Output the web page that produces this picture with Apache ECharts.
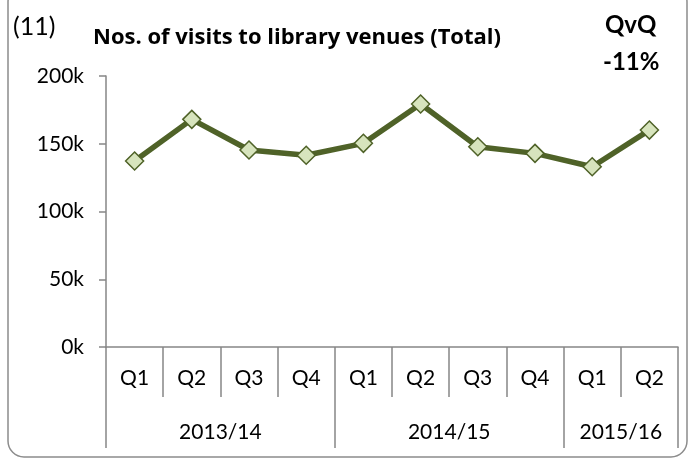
<!DOCTYPE html>
<html>
<head>
<meta charset="utf-8">
<script src="https://cdn.jsdelivr.net/npm/echarts@6/dist/echarts.min.js"></script>
<style>
  html, body { margin: 0; padding: 0; background: #fff; }
  #chart { width: 690px; height: 462px; }
</style>
</head>
<body>
<div id="chart"></div>
<script>
// quarters and the fiscal years they belong to
const quarters = ['Q1', 'Q2', 'Q3', 'Q4', 'Q1', 'Q2', 'Q3', 'Q4', 'Q1', 'Q2'];
const years = ['2013/14', '2014/15', '2015/16'];
const yearSpans = [4, 4, 2];
// visits
const visits = [137300, 168000, 145400, 141500, 150300, 179300, 147800, 142900, 133000, 160100];
const yTicks = [0, 50000, 100000, 150000, 200000];

// second axis uses half-quarter slots so each year label sits in the middle of its group
const yearSlots = [];
const yearLabelIdx = [];
const yearTickIdx = [0];
for (let i = 0; i <= quarters.length * 2; i++) yearSlots.push('');
let start = 0;
for (let i = 0; i < years.length; i++) {
  const c = start + yearSpans[i];
  yearSlots[c] = years[i];
  yearLabelIdx.push(c);
  start += yearSpans[i] * 2;
  yearTickIdx.push(start);
}

const axisColor = '#868686';
const font = 'Lato';
const chart = echarts.init(document.getElementById('chart'));

function txt(left, top, text, size, weight, family) {
  return {
    type: 'text', left: left, top: top,
    style: { text: text, fontSize: size, fontWeight: weight, fontFamily: family || font, fill: '#000' }
  };
}

const yScale = {
  type: 'value',
  min: yTicks[0],
  max: yTicks[yTicks.length - 1],
  interval: yTicks[1] - yTicks[0],
  position: 'left',
  splitLine: { show: false }
};

chart.setOption({
  animation: false,
  grid: { left: 106, right: 12, top: 76, bottom: 115 },
  graphic: [
    {
      type: 'rect',
      shape: { x: 8, y: -14, width: 679, height: 471, r: 16 },
      style: { fill: 'none', stroke: '#8c8c8c', lineWidth: 1.5 }
    },
    txt(13, 14, '(11)', 25, 'normal'),
    txt(93, 27, 'Nos. of visits to library venues (Total)', 22, 'bold', '"Open Sans"'),
    txt(605, 13, 'QvQ', 24, 'bold'),
    txt(603, 50, '-11%', 24, 'bold')
  ],
  xAxis: [
    {
      type: 'category',
      data: quarters,
      boundaryGap: true,
      axisLine: { lineStyle: { color: axisColor, width: 1.5 } },
      axisTick: { show: true, interval: 0, length: 50, lineStyle: { color: axisColor, width: 1.5 } },
      axisLabel: { interval: 0, margin: 21, color: '#000', fontSize: 21, fontFamily: font }
    },
    {
      type: 'category',
      data: yearSlots,
      boundaryGap: false,
      position: 'bottom',
      axisLine: { show: false },
      axisTick: {
        show: true,
        interval: function (idx) { return yearTickIdx.indexOf(idx) >= 0; },
        length: 101,
        lineStyle: { color: axisColor, width: 1.5 }
      },
      axisLabel: {
        interval: function (idx) { return yearLabelIdx.indexOf(idx) >= 0; },
        margin: 75, color: '#000', fontSize: 21, fontFamily: font
      }
    }
  ],
  yAxis: [
    Object.assign({}, yScale, {
      axisLine: { show: true, lineStyle: { color: axisColor, width: 1.5 } },
      axisTick: { show: true, length: 7, lineStyle: { color: axisColor, width: 1.5 } },
      axisLabel: { show: false }
    }),
    // labels only, pushed further left than the tick marks
    Object.assign({}, yScale, {
      offset: 14,
      axisLine: { show: false },
      axisTick: { show: false },
      axisLabel: {
        color: '#000', fontSize: 21, fontFamily: font,
        formatter: function (v) { return (v / 1000) + 'k'; }
      }
    })
  ],
  series: [
    {
      type: 'line',
      xAxisIndex: 0,
      yAxisIndex: 0,
      data: visits,
      symbol: 'diamond',
      symbolSize: 18,
      lineStyle: { color: '#4F6228', width: 5.5 },
      itemStyle: { color: '#D7E4BD', borderColor: '#4F6228', borderWidth: 1.5 }
    }
  ]
});
</script>
</body>
</html>
